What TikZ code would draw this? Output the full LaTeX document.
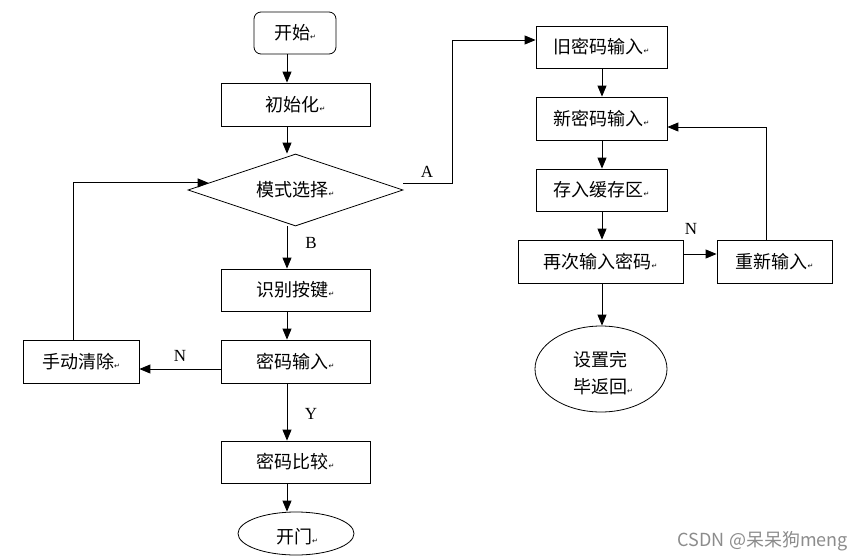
\documentclass[tikz,border=0pt]{standalone}
\usepackage{fontspec}
\setmainfont{Liberation Serif}
\newfontfamily\cjk{Noto Sans CJK SC}
\newfontfamily\symf{DejaVu Sans}
\usetikzlibrary{shapes.geometric,arrows.meta,calc}
\newcommand\ret{{\symf\fontsize{7}{7}\selectfont ↵}}
\begin{document}
\begin{tikzpicture}[x=1pt,y=-1pt,
  every node/.style={font=\cjk\fontsize{18}{20}\selectfont, inner sep=0pt},
  box/.style={draw, line width=0.8pt, rectangle},
  oval/.style={draw, line width=0.8pt, ellipse},
  lbl/.style={font=\rmfamily\fontsize{17}{17}\selectfont},
  arr/.style={line width=0.9pt, -{Triangle[length=11pt,width=9pt]}},
  ln/.style={line width=0.9pt}]
\fill[white] (0,0) rectangle (863,560);
\useasboundingbox (0,0) rectangle (863,560);
% column guides
\coordinate (cx) at (287,0);
\coordinate (crx) at (602,0);
\coordinate (lx) at (73,0);
\coordinate (rx) at (766,0);
\coordinate (ny) at (0,369);
\coordinate (ny2) at (0,254);
\coordinate (by) at (0,127);
% left column
\node[box, rounded corners=7pt, minimum width=82pt, minimum height=42pt] (start) at (295,33) {开始\ret};
\node[box, minimum width=149pt, minimum height=43pt] (init) at (295.5,104.5) {初始化\ret};
\node[draw, line width=0.8pt, diamond, shape aspect=3, minimum width=215pt, minimum height=72pt] (d) at (295.5,190) {模式选择\ret};
\node[box, minimum width=149pt, minimum height=42pt] (keys) at (295.5,290) {识别按键\ret};
\node[box, minimum width=149pt, minimum height=43pt] (pwd) at (295.5,361.5) {密码输入\ret};
\node[box, minimum width=116pt, minimum height=43pt] (clear) at (81,361.5) {手动清除\ret};
\node[box, minimum width=149pt, minimum height=42pt] (cmp) at (295.5,462) {密码比较\ret};
\node[oval, minimum width=116pt, minimum height=43pt] (open) at (296,533.5) {};
\node (opentxt) at (297,537) {开门\ret};
% right column
\node[box, minimum width=131pt, minimum height=42pt] (old) at (601.5,47) {旧密码输入\ret};
\node[box, minimum width=131pt, minimum height=43pt] (new) at (601.5,118.5) {新密码输入\ret};
\node[box, minimum width=131pt, minimum height=42pt] (buf) at (601.5,190) {存入缓存区\ret};
\node[box, minimum width=165pt, minimum height=43pt] (again) at (600.5,261.5) {再次输入密码\ret};
\node[box, minimum width=115pt, minimum height=43pt] (redo) at (774.5,261.5) {重新输入\ret};
\node[oval, minimum width=132pt, minimum height=86pt] (done) at (601,369) {};
\node[align=left, font=\cjk\fontsize{18}{27}\selectfont] (donetxt) at (603,373) {设置完\\毕返回\ret};
% connectors left
\draw[arr] (start.south -| cx) -- (init.north -| cx);
\draw[arr] (init.south -| cx) -- (cx |- d.north);
\draw[arr] (d.south -| cx) -- (keys.north -| cx);
\draw[arr] (keys.south -| cx) -- (pwd.north -| cx);
\draw[arr] (pwd.south -| cx) -- (cmp.north -| cx);
\draw[arr] (cmp.south -| cx) -- (open.north -| cx);
\draw[arr] (pwd.west |- ny) -- (clear.east |- ny);
\draw[arr] (clear.north -| lx) |- ($(d.west)!7/36!(d.north)$);
\draw[arr] ([yshift=7pt]d.east) -- ++(49,0) |- ([yshift=7pt]old.west);
% connectors right
\draw[arr] (old.south -| crx) -- (new.north -| crx);
\draw[arr] (new.south -| crx) -- (buf.north -| crx);
\draw[arr] (buf.south -| crx) -- (again.north -| crx);
\draw[arr] (again.south -| crx) -- (done.north -| crx);
\draw[arr] (again.east |- ny2) -- (redo.west |- ny2);
\draw[arr] (redo.north -| rx) |- (new.east |- by);
% labels
\node[lbl] (la) at (427,172) {A};
\node[lbl] (lb) at (311,243) {B};
\node[lbl] (ln1) at (180,356) {N};
\node[lbl] (ly) at (311,414) {Y};
\node[lbl] (ln2) at (691,229) {N};
% watermark
\node[font=\cjk\fontsize{18}{18}\selectfont, text=black!45, anchor=east] (wm) at (848,541) {CSDN @呆呆狗meng};
\end{tikzpicture}
\end{document}
